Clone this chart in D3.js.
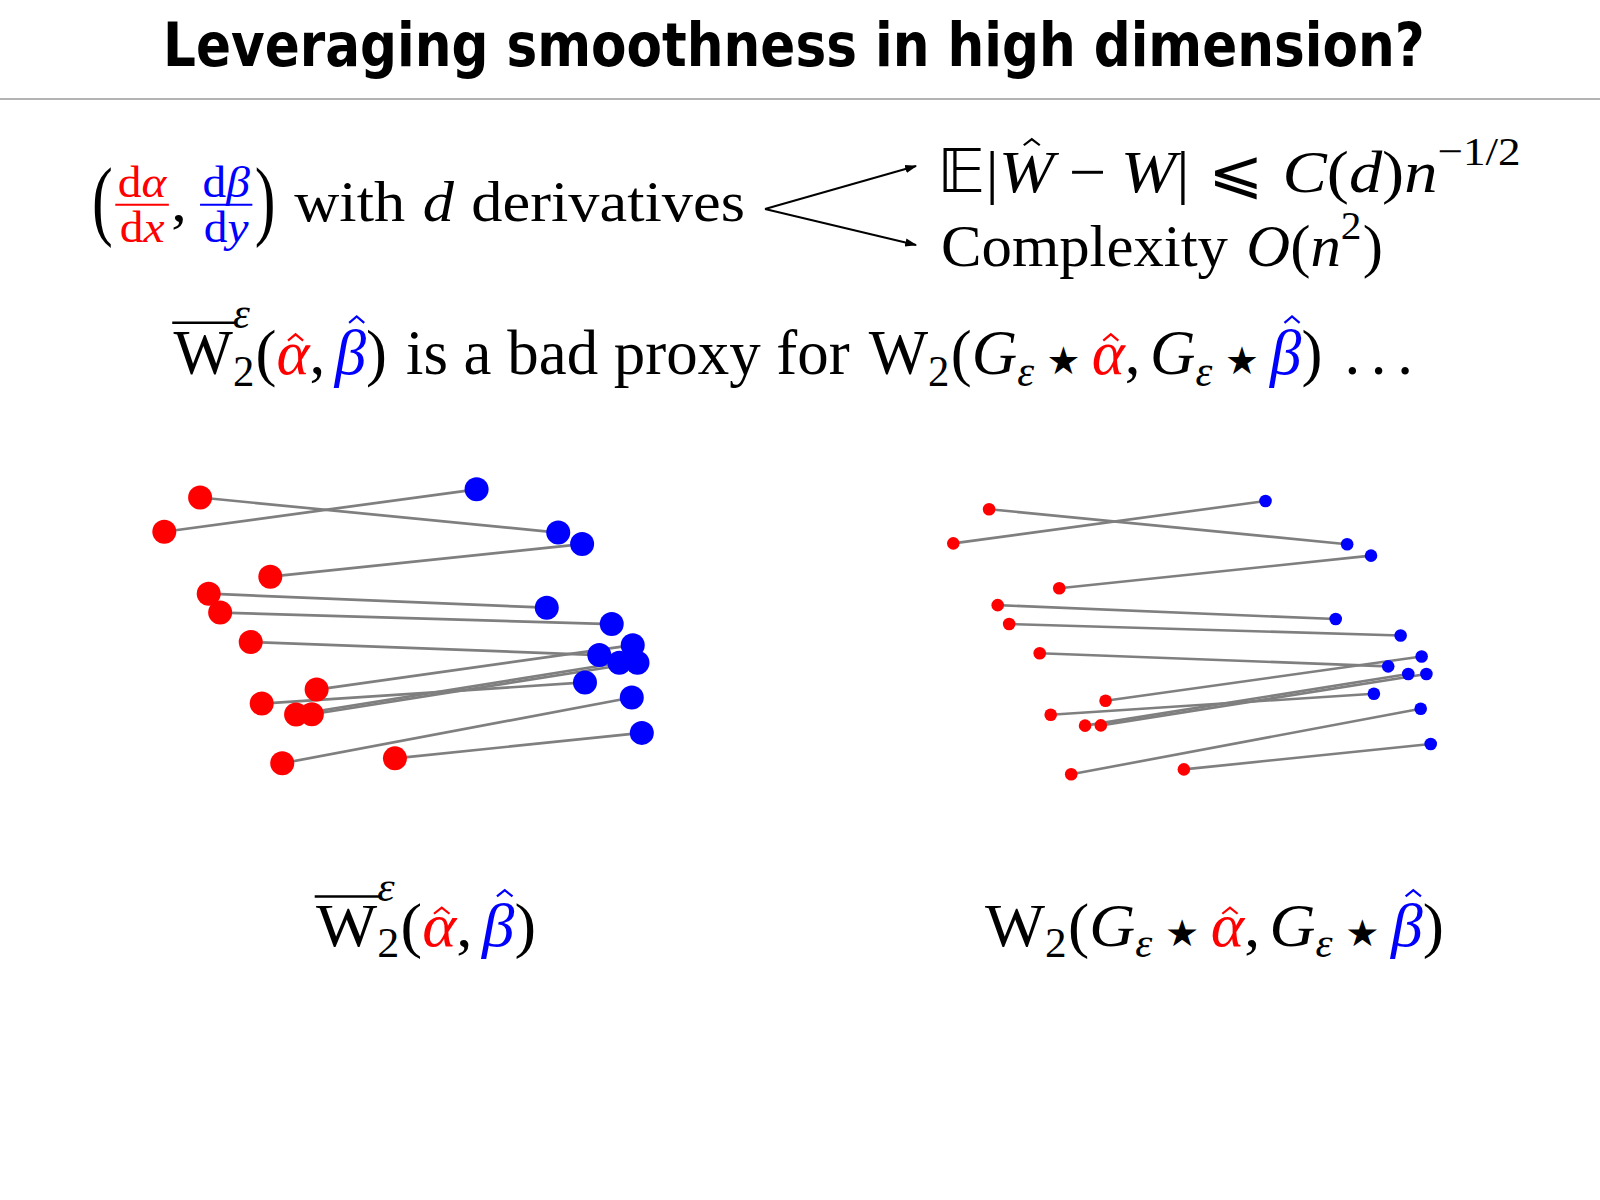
<!DOCTYPE html>
<html><head><meta charset="utf-8">
<script src="https://cdn.jsdelivr.net/npm/d3@7"></script>
<style>html,body{margin:0;padding:0;background:#fff}</style>
</head><body>
<svg id="c" width="1600" height="1200"></svg>
<script>
// ---------- data ----------
const titleText = "Leveraging smoothness in high dimension?";
const RED = "#ff0000", BLUE = "#0000ff", LINK = "#7f7f7f";
// red samples (alpha hat), in data units (x right, y up)
const alphaX = [7.5, 0, 22.2, 9.3, 11.7, 18.1, 31.9, 20.4, 27.6, 30.9, 24.7, 48.3];
const alphaY = [97.0, 84.5, 68.1, 61.9, 55.0, 44.3, 26.9, 21.8, 17.8, 17.9, 0, 1.8];
// blue samples (beta hat), listed in the order they are matched to alpha
const betaX = [82.5, 65.4, 87.5, 80.1, 93.7, 91.1, 98.1, 88.1, 95.3, 99.1, 97.9, 100];
const betaY = [84.2, 100, 80.0, 56.8, 50.8, 39.5, 43.1, 29.5, 36.7, 36.7, 24.0, 11.1];

const svg = d3.select("#c");
svg.append("rect").attr("width", 1600).attr("height", 1200).attr("fill", "#fff");

// ---------- title ----------
const tg = svg.append("g");
const tt = tg.append("text").attr("x", 0).attr("y", 0)
  .attr("font-family", "'DejaVu Sans',sans-serif").attr("font-weight", "bold")
  .attr("font-size", 60).attr("fill", "#000").text(titleText);
const tw = tt.node().getComputedTextLength();
tg.attr("transform", `translate(163,66) scale(${1262 / tw},1)`);
svg.append("line").attr("x1", 0).attr("x2", 1600).attr("y1", 99).attr("y2", 99)
  .attr("stroke", "#9a9a9a").attr("stroke-width", 1.5);

// ---------- panels ----------
function panel(xr, yr, r, sw) {
  const x = d3.scaleLinear().domain([0, 100]).range(xr);
  const y = d3.scaleLinear().domain([0, 100]).range(yr);
  const g = svg.append("g");
  const idx = d3.range(alphaX.length);
  g.selectAll("line.l").data(idx).join("line").attr("class", "l")
    .attr("x1", i => x(alphaX[i])).attr("y1", i => y(alphaY[i]))
    .attr("x2", i => x(betaX[i])).attr("y2", i => y(betaY[i]))
    .attr("stroke", LINK).attr("stroke-width", sw);
  g.selectAll("circle.b").data(idx).join("circle").attr("class", "b")
    .attr("cx", i => x(betaX[i])).attr("cy", i => y(betaY[i])).attr("r", r).attr("fill", BLUE);
  g.selectAll("circle.a").data(idx).join("circle").attr("class", "a")
    .attr("cx", i => x(alphaX[i])).attr("cy", i => y(alphaY[i])).attr("r", r).attr("fill", RED);
}
panel([164.3, 641.8], [763.3, 489.3], 12, 2.7);
panel([953.3, 1430.7], [774.3, 501], 6.3, 2.6);

// ---------- math typesetting helper ----------
const FAM = "'Liberation Serif','DejaVu Serif',serif";
function T(t, o = {}) { return Object.assign({ t }, o); }
function txt(g, t, o, x, y, fs) {
  const e = g.append("text").attr("font-size", fs)
    .attr("font-family", o.ff || FAM).attr("font-style", o.it ? "italic" : "normal")
    .attr("fill", o.c || "#000").text(t);
  if (o.sy) e.attr("x", 0).attr("y", 0).attr("transform", `translate(${x},${y}) scale(1,${o.sy})`);
  else e.attr("x", x).attr("y", y);
  return e;
}
const len = e => e.node().getComputedTextLength();
function render(g, items, size, x0, y0) {
  let x = x0;
  for (const it of items) {
    if (it.sp !== undefined) { x += it.sp * size; continue; }
    if (it.frac) {
      const fs = size * (it.fs || 0.76);
      const gn = g.append("g"), gd = g.append("g");
      const wn = render(gn, it.frac[0], fs, 0, 0), wd = render(gd, it.frac[1], fs, 0, 0);
      const pad = size * 0.08, w = Math.max(wn, wd) + 2 * pad;
      const axis = y0 - size * 0.28;
      gn.attr("transform", `translate(${x + (w - wn) / 2},${axis - size * 0.13})`);
      gd.attr("transform", `translate(${x + (w - wd) / 2},${axis + size * 0.64})`);
      g.append("line").attr("x1", x + pad * 0.5).attr("x2", x + w - pad * 0.5)
        .attr("y1", axis).attr("y2", axis).attr("stroke", it.c || "#000").attr("stroke-width", size * 0.035);
      x += w; continue;
    }
    if (it.sub !== undefined || it.sup !== undefined) {
      const fs = size * 0.68; let w = 0;
      if (it.sub !== undefined) { const e = txt(g, it.sub, { it: it.subIt }, x, y0 + size * (it.subDy || 0.18), fs); w = Math.max(w, len(e)); }
      if (it.sup !== undefined) { const e = txt(g, it.sup, { it: it.supIt }, x, y0 - size * (it.supDy || 0.45), fs); w = Math.max(w, len(e)); }
      x += w + size * 0.02; continue;
    }
    const fs = size * (it.s || 1);
    const e = txt(g, it.t, it, x, y0 + (it.dy || 0) * size, fs);
    const w = len(e);
    if (it.hat !== undefined) {
      const cx = x + w / 2 + (it.hdx || 0) * fs, yb = y0 - it.hat * fs, hw = 0.12 * fs, hh = 0.1 * fs;
      g.append("path").attr("d", `M${cx - hw},${yb}L${cx},${yb - hh}L${cx + hw},${yb}`)
        .attr("fill", "none").attr("stroke", it.c || "#000").attr("stroke-width", fs * 0.035);
    }
    if (it.bar) {
      g.append("line").attr("x1", x - 0.02 * fs).attr("x2", x + w + 0.03 * fs)
        .attr("y1", y0 - 0.8 * fs).attr("y2", y0 - 0.8 * fs).attr("stroke", "#000").attr("stroke-width", fs * 0.04);
    }
    x += w;
  }
  return x - x0;
}
function math(items, x0, x1, base, size) {
  const g = svg.append("g"), inner = g.append("g");
  const w = render(inner, items, size, 0, 0);
  g.attr("transform", `translate(${x0},${base}) scale(${(x1 - x0) / w},1)`);
}
const aHat = () => T("α", { it: 1, c: RED, hat: 0.52, hdx: 0.04 });
const bHat = () => T("β", { it: 1, c: BLUE, hat: 0.8, hdx: 0.1 });
const star = () => T("★", { ff: "'DejaVu Sans',sans-serif", s: 0.6, dy: 0 });
const Weps = () => [T("W", { bar: 1 }), { sub: "2", sup: "ε", supIt: 1, supDy: 0.72 }];
const Geps = () => [T("G", { it: 1 }), { sub: "ε", subIt: 1 }];

// line 1
math([T("(", { sy: 1.55, dy: 0.13 }),
  { frac: [[T("d", { c: RED }), T("α", { it: 1, c: RED })], [T("d", { c: RED }), T("x", { it: 1, c: RED })]], c: RED },
  T(","), { sp: 0.17 },
  { frac: [[T("d", { c: BLUE }), T("β", { it: 1, c: BLUE })], [T("d", { c: BLUE }), T("y", { it: 1, c: BLUE })]], c: BLUE },
  T(")", { sy: 1.55, dy: 0.13 }), { sp: 0.3 }, T("with"), { sp: 0.28 }, T("d", { it: 1 }), { sp: 0.28 }, T("derivatives")],
  92, 745, 221, 58);

// arrows
const defs = svg.append("defs");
defs.append("marker").attr("id", "ah").attr("viewBox", "0 0 10 10").attr("refX", 9).attr("refY", 5)
  .attr("markerWidth", 6).attr("markerHeight", 6).attr("orient", "auto").attr("markerUnits", "strokeWidth")
  .append("path").attr("d", "M0,1.5L10,5L0,8.5z").attr("fill", "#000");
[[916, 166], [916, 245]].forEach(p => {
  svg.append("line").attr("x1", 765).attr("y1", 209).attr("x2", p[0]).attr("y2", p[1])
    .attr("stroke", "#000").attr("stroke-width", 2).attr("marker-end", "url(#ah)");
});

// right block
math([T("𝔼", { ff: "'DejaVu Sans',sans-serif" }), T("|"), T("W", { it: 1, hat: 0.78, hdx: 0.08 }), { sp: 0.22 }, T("−"), { sp: 0.22 },
  T("W", { it: 1 }), T("|"), { sp: 0.28 }, T("⩽", { ff: "'DejaVu Sans',sans-serif" }), { sp: 0.28 },
  T("C", { it: 1 }), T("("), T("d", { it: 1 }), T(")"), T("n", { it: 1 }), { sup: "−1/2", supDy: 0.45 }],
  937, 1522, 192, 60);
math([T("Complexity"), { sp: 0.3 }, T("O", { it: 1 }), T("("), T("n", { it: 1 }), { sup: "2" }, T(")")],
  941, 1383, 266, 60);

// line 3
math([...Weps(), T("("), aHat(), T(","), { sp: 0.15 }, bHat(), T(")"), { sp: 0.3 },
  T("is\u00A0a\u00A0bad\u00A0proxy\u00A0for"), { sp: 0.3 }, T("W"), { sub: "2" }, T("("),
  ...Geps(), { sp: 0.18 }, star(), { sp: 0.18 }, aHat(), T(","), { sp: 0.15 },
  ...Geps(), { sp: 0.18 }, star(), { sp: 0.18 }, bHat(), T(")"), { sp: 0.35 },
  T("."), { sp: 0.17 }, T("."), { sp: 0.17 }, T(".")],
  173.5, 1413, 374, 64);

// bottom labels
math([...Weps(), T("("), aHat(), T(","), { sp: 0.15 }, bHat(), T(")")], 316, 536, 946, 62);
math([T("W"), { sub: "2" }, T("("), ...Geps(), { sp: 0.18 }, star(), { sp: 0.18 }, aHat(), T(","), { sp: 0.15 },
  ...Geps(), { sp: 0.18 }, star(), { sp: 0.18 }, bHat(), T(")")], 985, 1444, 946, 62);
</script>
</body></html>
